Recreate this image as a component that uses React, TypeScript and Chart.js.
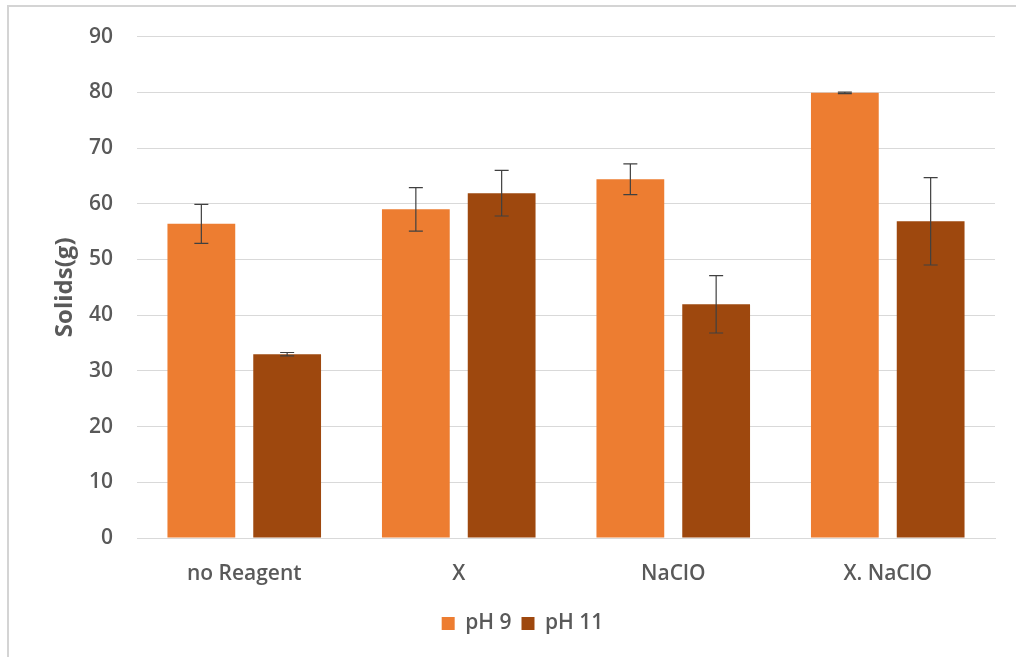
import React, { useEffect, useRef } from "react";
import { Chart, registerables } from "chart.js";

Chart.register(...registerables);

const categories = ["no Reagent", "X", "NaClO", "X. NaClO"];
const seriesNames = ["pH 9", "pH 11"];
const ph9Values = [56.4, 59.0, 64.4, 79.9];
const ph9Errors = [3.5, 3.9, 2.75, 0.15];
const ph11Values = [33.0, 61.9, 41.95, 56.85];
const ph11Errors = [0.3, 4.1, 5.15, 7.85];
const yTicks = [0, 10, 20, 30, 40, 50, 60, 70, 80, 90];
const yTitle = "Solids(g)";

const errorBarPlugin = {
  id: "errorBars",
  afterDatasetsDraw(chart: any) {
    const ctx = chart.ctx;
    const yScale = chart.scales.y;
    const errs = [ph9Errors, ph11Errors];
    const vals = [ph9Values, ph11Values];
    ctx.save();
    ctx.strokeStyle = "#404040";
    ctx.lineWidth = 1.2;
    chart.data.datasets.forEach((ds: any, di: number) => {
      const meta = chart.getDatasetMeta(di);
      meta.data.forEach((bar: any, i: number) => {
        const x = bar.x;
        const top = yScale.getPixelForValue(vals[di][i] + errs[di][i]);
        const bot = yScale.getPixelForValue(vals[di][i] - errs[di][i]);
        const cap = 7;
        ctx.beginPath();
        ctx.moveTo(x, top);
        ctx.lineTo(x, bot);
        ctx.moveTo(x - cap, top);
        ctx.lineTo(x + cap, top);
        ctx.moveTo(x - cap, bot);
        ctx.lineTo(x + cap, bot);
        ctx.stroke();
      });
    });
    ctx.restore();
  },
};

export default function App() {
  const ref = useRef<HTMLCanvasElement>(null);
  useEffect(() => {
    if (!ref.current) return;
    const font = "'Open Sans', sans-serif";
    const chart = new Chart(ref.current, {
      type: "bar",
      data: {
        labels: categories,
        datasets: [
          {
            label: seriesNames[0],
            data: ph9Values,
            backgroundColor: "#ED7D31",
            categoryPercentage: 0.8,
            barPercentage: 0.79,
          },
          {
            label: seriesNames[1],
            data: ph11Values,
            backgroundColor: "#9E480E",
            categoryPercentage: 0.8,
            barPercentage: 0.79,
          },
        ],
      },
      options: {
        animation: false,
        responsive: false,
        maintainAspectRatio: false,
        layout: { padding: { top: 32, right: 21, bottom: 13, left: 50 } },
        plugins: {
          legend: {
            position: "bottom",
            labels: {
              boxWidth: 13,
              boxHeight: 13,
              color: "#595959",
              font: { family: font, size: 21, weight: 600 },
              padding: 10,
            },
          },
          tooltip: { enabled: false },
        },
        scales: {
          x: {
            grid: { display: false },
            border: { display: true, color: "#d9d9d9" },
            ticks: {
              color: "#595959",
              font: { family: font, size: 21, weight: 600 },
              padding: 15,
            },
            afterFit(scale: any) {
              scale.height = 65;
            },
          },
          y: {
            min: 0,
            max: 90,
            afterBuildTicks(scale: any) {
              scale.ticks = yTicks.map((v) => ({ value: v }));
            },
            grid: { color: "#d9d9d9", drawTicks: false },
            border: { display: false },
            ticks: {
              color: "#595959",
              font: { family: font, size: 21, weight: 600 },
              padding: 24,
            },
            title: {
              display: true,
              text: yTitle,
              color: "#595959",
              font: { family: font, size: 24, weight: 700 },
              padding: { top: 1, bottom: 0 },
            },
            afterFit(scale: any) {
              scale.width = 87;
            },
          },
        },
      },
      plugins: [errorBarPlugin],
    } as any);
    return () => chart.destroy();
  }, []);
  return (
    <div style={{ position: "fixed", left: 0, top: 0, width: 1016, height: 657, background: "#fff" }}>
      <div
        style={{
          position: "absolute",
          left: 7,
          top: 5,
          right: 0,
          bottom: 0,
          borderTop: "2px solid #d4d4d4",
          borderLeft: "2px solid #d4d4d4",
        }}
      />
      <canvas ref={ref} width={1016} height={657} style={{ position: "absolute", left: 0, top: 0 }} />
    </div>
  );
}
